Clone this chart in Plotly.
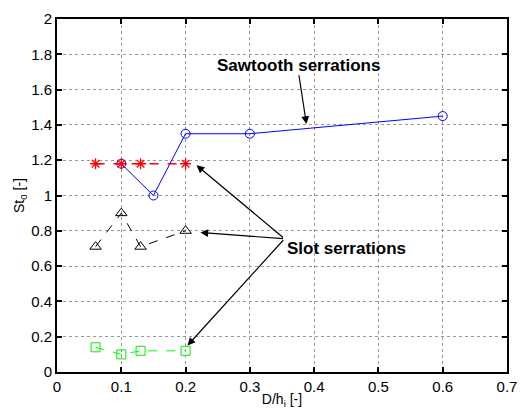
import plotly.graph_objects as go

saw_x = [0.1, 0.15, 0.2, 0.3, 0.6]
saw_y = [1.18, 1.0, 1.35, 1.35, 1.45]
slot_x = [0.06, 0.1, 0.13, 0.2]
slot_red = [1.18, 1.18, 1.18, 1.18]
slot_tri = [0.71, 0.90, 0.71, 0.80]
slot_sq = [0.14, 0.10, 0.12, 0.12]

xticks = [0, 0.1, 0.2, 0.3, 0.4, 0.5, 0.6, 0.7]
yticks = [0, 0.2, 0.4, 0.6, 0.8, 1, 1.2, 1.4, 1.6, 1.8, 2]

fig = go.Figure()
fig.add_trace(go.Scatter(x=saw_x, y=saw_y, mode="lines+markers",
                         line=dict(color="#0000ff", width=1),
                         marker=dict(symbol="circle-open", size=9, color="#0000ff", line=dict(width=1))))
fig.add_trace(go.Scatter(x=slot_x, y=slot_red, mode="lines+markers",
                         line=dict(color="#ff0000", width=1.3, dash="dash"),
                         marker=dict(symbol="asterisk-open", size=9, color="#ff0000", line=dict(width=1.3, color="#ff0000"))))
fig.add_trace(go.Scatter(x=slot_x, y=slot_tri, mode="lines+markers",
                         line=dict(color="#000000", width=1, dash="dash"),
                         marker=dict(symbol="triangle-up-open", size=10, color="#000000", line=dict(width=1))))
fig.add_trace(go.Scatter(x=slot_x, y=slot_sq, mode="lines+markers",
                         line=dict(color="#00ff00", width=1, dash="dash"),
                         marker=dict(symbol="square-open", size=9, color="#00ee00", line=dict(width=1))))

font = dict(family="Liberation Sans, Arial", size=15, color="black")
tfont = dict(family="Liberation Sans, Arial", size=14, color="black")
bold = dict(family="Liberation Sans, Arial", size=17, color="black", weight="bold")

anns = []
anns.append(dict(x=0.388, y=1.405, ax=0.376, ay=1.69, xref="x", yref="y", axref="x", ayref="y",
                 text="", showarrow=True, arrowhead=2, arrowsize=1.3, arrowwidth=1.2, arrowcolor="black"))
anns.append(dict(x=0.375, y=1.738, xref="x", yref="y", text="Sawtooth serrations", showarrow=False, font=bold))
tail = (0.354, 0.755)
for hx, hy in [(0.217, 1.172), (0.223, 0.79), (0.203, 0.15)]:
    anns.append(dict(x=hx, y=hy, ax=tail[0], ay=tail[1], xref="x", yref="y", axref="x", ayref="y",
                     text="", showarrow=True, arrowhead=2, arrowsize=1.3, arrowwidth=1.2, arrowcolor="black"))
anns.append(dict(x=0.354, y=0.70, xref="x", yref="y", text="Slot serrations", showarrow=False,
                 xanchor="left", font=bold))

axis_common = dict(showgrid=True, gridcolor="#999999", griddash="dot", gridwidth=1,
                   showline=True, linecolor="black", linewidth=2, mirror="ticks",
                   ticks="inside", ticklen=5, tickwidth=2, tickcolor="black", zeroline=False,
                   tickfont=font)

fig.update_layout(
    width=527, height=415,
    margin=dict(l=57, r=10, t=15, b=39),
    plot_bgcolor="white", paper_bgcolor="white",
    showlegend=False,
    font=font,
    annotations=anns,
    xaxis=dict(range=[0, 0.7], tickvals=xticks, ticktext=[str(v) for v in xticks],
               title=dict(text="D/h<sub>i</sub> [-]", standoff=0, font=tfont), **axis_common),
    yaxis=dict(range=[0, 2], tickvals=yticks, ticktext=[("%g" % v) for v in yticks],
               ticklabelstandoff=0,
               title=dict(text="St<sub>0</sub> [-]", standoff=3, font=tfont), **axis_common),
)
fig.write_html("out.html")
